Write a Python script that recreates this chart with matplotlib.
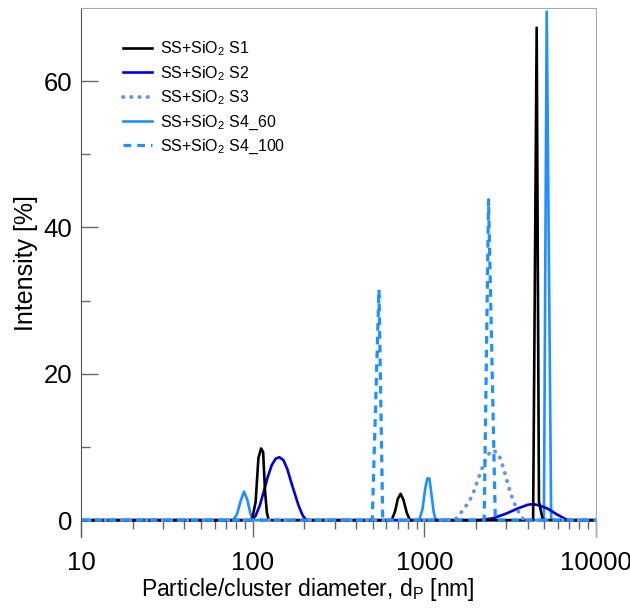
import matplotlib
matplotlib.use("Agg")
import matplotlib.pyplot as plt
from matplotlib.ticker import FixedLocator, NullFormatter

plt.rcParams['font.family'] = ['Liberation Sans', 'DejaVu Sans']
plt.rcParams['mathtext.default'] = 'regular'

# particle diameter [nm] / intensity [%]
s1_d = [10, 99, 104, 108, 112, 115, 118, 121, 124,
        645, 675, 700, 727, 755, 790, 824,
        4300, 4510, 4650, 4900, 10000]
s1_i = [0, 0, 2.5, 8.5, 9.8, 9.3, 4.0, 1.0, 0,
        0, 1.2, 2.9, 3.6, 2.8, 1.0, 0,
        0, 67.3, 2.5, 0, 0]

s2_d = [10, 99, 104, 110, 116, 122, 129, 136, 143, 151, 159, 167, 176, 185, 195, 205,
        2100, 2500, 3000, 3500, 4000, 4300, 4700, 5200, 5900, 6700, 7000, 10000]
s2_i = [0, 0, 0.6, 2.0, 3.9, 5.8, 7.5, 8.4, 8.6, 8.2, 7.0, 5.3, 3.6, 2.0, 0.7, 0,
        0, 0.25, 0.9, 1.6, 2.1, 2.2, 2.0, 1.6, 0.8, 0.1, 0, 0]

s3_d = [10, 1500, 1700, 1900, 2100, 2300, 2500, 2700, 2900, 3100, 3300, 3500, 3800, 10000]
s3_i = [0, 0, 1.5, 3.3, 6.2, 8.7, 9.6, 9.1, 7.0, 4.5, 2.6, 1.3, 0, 0]

s4_60_d = [10, 77, 81, 85, 89, 93, 97, 100,
           933, 975, 1010, 1040, 1070, 1100, 1135, 1167,
           4970, 5160, 5480, 10000]
s4_60_i = [0, 0, 0.8, 2.6, 3.9, 2.8, 0.9, 0,
           0, 1.5, 4.2, 5.7, 5.7, 3.5, 1.0, 0,
           0, 69.5, 0, 0]

s4_100_d = [10, 497, 544, 572, 2230, 2365, 2590, 10000]
s4_100_i = [0, 0, 31.5, 0, 0, 43.8, 0, 0]

labels = ['SS+SiO$_2$ S1', 'SS+SiO$_2$ S2', 'SS+SiO$_2$ S3',
          'SS+SiO$_2$ S4_60', 'SS+SiO$_2$ S4_100']

fig = plt.figure(figsize=(6.3, 6.08), dpi=100)
ax = fig.add_axes([0.1286, 0.1168, 0.8175, 0.8701])

h4, = ax.plot(s4_60_d, s4_60_i, color='#1E90FF', lw=1.9)
h2, = ax.plot(s2_d, s2_i, color='#0000E6', lw=1.9)
h1, = ax.plot(s1_d, s1_i, color='black', lw=1.9)
h3, = ax.plot(s3_d, s3_i, color='#6495ED', lw=2.8, linestyle=(0, (0.1, 2.0)),
              dash_capstyle='round')
h5, = ax.plot(s4_100_d, s4_100_i, color='#1E90FF', lw=2.3, linestyle=(0, (2.4, 1.9)))

ax.set_xscale('log')
ax.set_xlim(10, 10000)
ax.set_ylim(-2.3, 70)

ax.spines['bottom'].set_position(('data', 0))
ax.spines['bottom'].set_visible(False)
ax.spines['left'].set_color('#555555')
ax.spines['top'].set_color('#aaaaaa')
ax.spines['right'].set_color('#aaaaaa')

ax.set_xticks([10, 100, 1000, 10000])
ax.set_xticklabels(['10', '100', '1000', '10000'])
ax.xaxis.set_minor_locator(FixedLocator([m * 10 ** e for e in range(1, 4) for m in range(2, 10)]))
ax.xaxis.set_minor_formatter(NullFormatter())
ax.tick_params(axis='x', which='major', direction='out', length=12, width=1, color='#666666',
               labelsize=18.5, pad=10)
ax.tick_params(axis='x', which='minor', direction='out', length=6.5, width=1, color='#666666')

ax.set_yticks([0, 20, 40, 60])
ax.set_yticks([10, 30, 50], minor=True)
ax.tick_params(axis='y', which='major', direction='in', length=12, width=1, color='#666666',
               labelsize=18.5, pad=6.5)
ax.tick_params(axis='y', which='minor', direction='in', length=6.5, width=1, color='#666666')

ax.set_xlabel('Particle/cluster diameter, d$_P$ [nm]', fontsize=16.5)
ax.xaxis.set_label_coords(0.44, -0.073)
ax.set_ylabel('Intensity [%]', fontsize=18)
ax.yaxis.set_label_coords(-0.083, 0.517)

ax.legend([h1, h2, h3, h4, h5], labels, loc='upper left', bbox_to_anchor=(0.069, 0.953),
          frameon=False, fontsize=11.5, handlelength=1.85, handletextpad=0.5,
          labelspacing=0.38, borderaxespad=0)

fig.savefig('out.png', dpi=100)
